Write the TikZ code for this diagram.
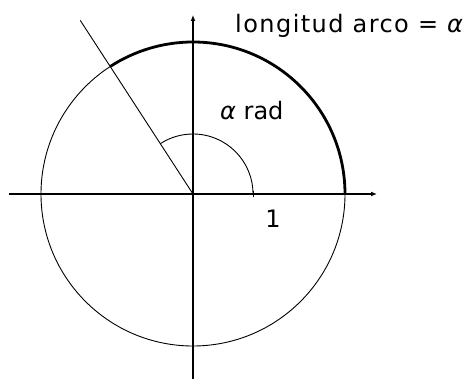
\documentclass[tikz,border=0pt]{standalone}
\usepackage{fontspec}
\setmainfont{DejaVu Sans}
\usepackage{tikz}
\usetikzlibrary{arrows.meta, positioning, calc}

\begin{document}
\begin{tikzpicture}[
    x=1pt, y=1pt,
    axis/.style={-{Latex[length=6pt,width=5pt]}, line width=1.6pt},
    thin line/.style={line width=0.9pt},
    arcline/.style={line width=2.8pt},
    label/.style={font=\fontsize{24}{28}\selectfont, inner sep=0pt}
]
\useasboundingbox (-193,-185) rectangle (278,194);

% Points
\coordinate (O) at (0,0);
\coordinate (xl) at (-184,0);
\coordinate (xr) at (184,0);
\coordinate (yb) at (0,-185);
\coordinate (yt) at (0,179);
\coordinate (rayend) at (123:207);
\coordinate (one) at (60,0);

% Axes
\draw[axis] (xl) -- (xr);
\draw[axis] (yb) -- (yt);

% Unit circle and arc
\draw[thin line] (O) circle (152);
\draw[arcline] (152,0) arc (0:123:152);

% Angle
\draw[thin line] (O) -- (rayend);
\draw[thin line] (one) arc (0:123:60);
\draw[thin line] ($(one)+(0,-3)$) -- ($(one)+(0,3)$);

% Labels
\node[label, anchor=base west] (arclen) at (42,161) {\addfontfeatures{LetterSpace=6}longitud arco = {\itshape α}};
\node[label, anchor=base west] (angle) at (27,74) {{\itshape α} rad};
\node[label, anchor=base] (unit) at (80,-34) {1};

\end{tikzpicture}
\end{document}
